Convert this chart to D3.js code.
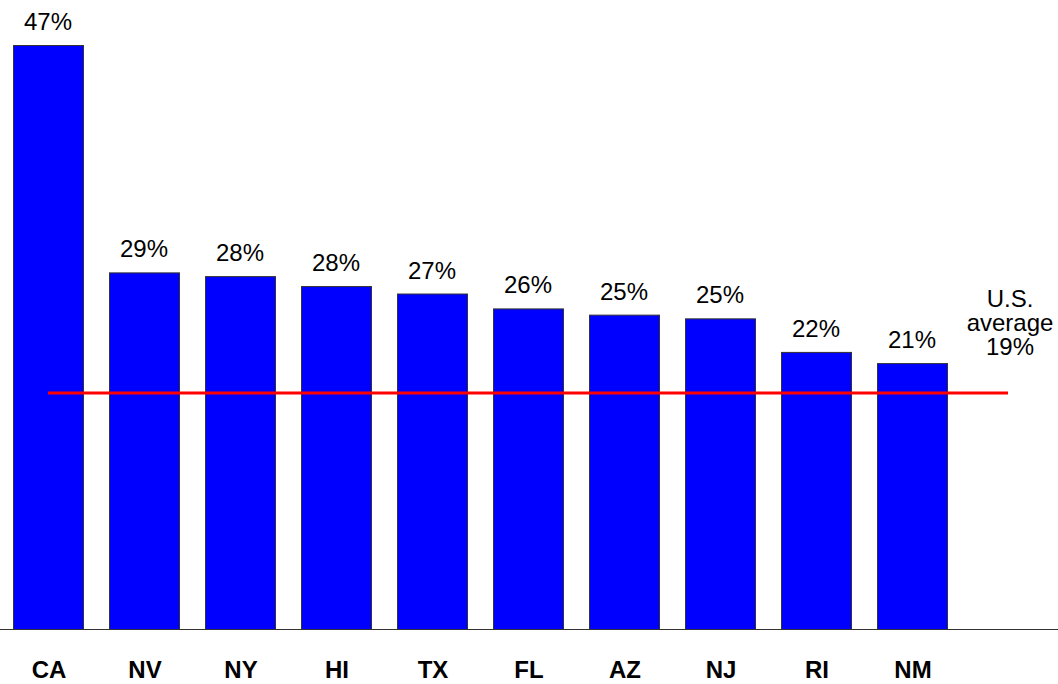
<!DOCTYPE html>
<html>
<head>
<meta charset="utf-8">
<script src="https://cdn.jsdelivr.net/npm/d3@7"></script>
<style>
  body { margin: 0; background: #fff; }
  svg text { font-family: "Liberation Sans", Arial, sans-serif; }
</style>
</head>
<body>
<div id="figure"></div>
<script>
var states = ["CA", "NV", "NY", "HI", "TX", "FL", "AZ", "NJ", "RI", "NM"];
var shares = [47.0, 28.7, 28.4, 27.6, 27.0, 25.8, 25.3, 25.0, 22.3, 21.4];
var shareLabels = ["47%", "29%", "28%", "28%", "27%", "26%", "25%", "25%", "22%", "21%"];
var usAverage = 19;
var avgLabel = ["U.S.", "average", "19%"];

var w = 1058, h = 684;
var base = 629;

var svg = d3.select("#figure").append("svg")
  .attr("width", w).attr("height", h);

var x = d3.scaleBand()
  .domain(states)
  .range([13, 947])
  .paddingInner(26 / 96)
  .paddingOuter(0);

var y = d3.scaleLinear()
  .domain([0, 47])
  .range([base, 45]);

var data = states.map(function(s, i) { return {state: s, v: shares[i], lab: shareLabels[i]}; });

svg.selectAll("rect.bar")
  .data(data)
  .enter()
  .append("rect")
  .attr("class", "bar")
  .attr("x", function(d) { return x(d.state) + 0.5; })
  .attr("y", function(d) { return y(d.v) + 0.5; })
  .attr("width", x.bandwidth())
  .attr("height", function(d) { return base - y(d.v); })
  .attr("fill", "#0000ff")
  .attr("stroke", "#333")
  .attr("stroke-width", 1);

svg.selectAll("text.val")
  .data(data)
  .enter()
  .append("text")
  .attr("class", "val")
  .attr("x", function(d) { return x(d.state) + x.bandwidth() / 2; })
  .attr("y", function(d) { return y(d.v) - 15; })
  .attr("text-anchor", "middle")
  .attr("font-size", "24px")
  .attr("fill", "#000")
  .text(function(d) { return d.lab; });

// baseline axis
svg.append("line")
  .attr("x1", 0).attr("x2", w)
  .attr("y1", base + 0.5).attr("y2", base + 0.5)
  .attr("stroke", "#333").attr("stroke-width", 1.2);

svg.selectAll("text.cat")
  .data(states)
  .enter()
  .append("text")
  .attr("class", "cat")
  .attr("x", function(d) { return x(d) + x.bandwidth() / 2 + 1; })
  .attr("y", 678)
  .attr("text-anchor", "middle")
  .attr("font-size", "24px")
  .attr("font-weight", "bold")
  .text(function(d) { return d; });

// US average line
svg.append("line")
  .attr("x1", 48).attr("x2", 1008)
  .attr("y1", y(usAverage)).attr("y2", y(usAverage))
  .attr("stroke", "#ff0000").attr("stroke-width", 3);

svg.append("text")
  .attr("text-anchor", "middle")
  .attr("font-size", "24px")
  .selectAll("tspan")
  .data(avgLabel)
  .enter()
  .append("tspan")
  .attr("x", 1010)
  .attr("y", function(d, i) { return 307 + i * 24; })
  .text(function(d) { return d; });
</script>
</body>
</html>
